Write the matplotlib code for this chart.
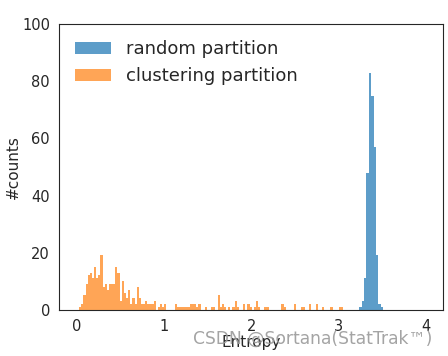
import numpy as np
import matplotlib
matplotlib.use('Agg')
from matplotlib import pyplot as plt
import seaborn as sns

sns.set_style('white')
plt.rcParams['font.family'] = ['DejaVu Sans']

# random partition: 10 bins between these edges
random_range = (3.237, 3.512)
random_counts = [1, 3, 11, 48, 83, 75, 57, 19, 2, 1]

# clustering partition: 124 bins between these edges
cluster_range = (0.029, 3.054)
cluster_counts = [
    1, 2, 5, 9, 12, 13, 11, 15, 11, 12,
    19, 8, 9, 7, 9, 9, 9, 15, 13, 3,
    10, 6, 4, 7, 2, 4, 2, 8, 4, 2,
    2, 3, 2, 2, 2, 3, 0, 1, 2, 1,
    2, 0, 0, 0, 0, 2, 1, 1, 1, 1,
    1, 1, 2, 2, 2, 1, 2, 0, 0, 1,
    0, 0, 1, 1, 0, 5, 1, 2, 1, 0,
    1, 0, 1, 3, 1, 0, 0, 2, 0, 2,
    1, 0, 1, 3, 1, 0, 0, 1, 1, 0,
    0, 0, 0, 0, 0, 2, 1, 0, 0, 0,
    0, 2, 0, 0, 1, 1, 0, 0, 2, 0,
    0, 2, 0, 0, 1, 0, 0, 0, 1, 0,
    0, 0, 1, 1,
]

labels = ['random partition', 'clustering partition']
x_ticks = [0, 1, 2, 3, 4]
y_ticks = [0, 20, 40, 60, 80, 100]

fig = plt.figure(figsize=(4.48, 3.56), dpi=100)
ax = fig.add_axes([0.132, 0.130, 0.8575, 0.802])

r_edges = np.linspace(random_range[0], random_range[1], len(random_counts) + 1)
c_edges = np.linspace(cluster_range[0], cluster_range[1], len(cluster_counts) + 1)

ax.hist(r_edges[:-1], bins=r_edges, weights=random_counts,
        color='tab:blue', alpha=0.72, edgecolor='none', linewidth=0, label=labels[0])
ax.hist(c_edges[:-1], bins=c_edges, weights=cluster_counts,
        color='tab:orange', alpha=0.7, edgecolor='none', linewidth=0, label=labels[1])

ax.set_xlim(-0.2, 4.2)
ax.set_ylim(0, 100)
ax.set_xticks(x_ticks)
ax.set_yticks(y_ticks)
ax.tick_params(labelsize=10.5, pad=3)
ax.set_xlabel('Entropy', fontsize=11, labelpad=1)
ax.set_ylabel('#counts', fontsize=11, labelpad=1)

ax.legend(frameon=False, fontsize=13, loc='upper left')

# watermark
fig.text(0.965, 0.048, 'CSDN @Sortana(StatTrak\u2122)', ha='right', va='center',
         fontsize=12.3, color='#9a9a9a', alpha=0.9)

plt.savefig('out.png', dpi=100)
